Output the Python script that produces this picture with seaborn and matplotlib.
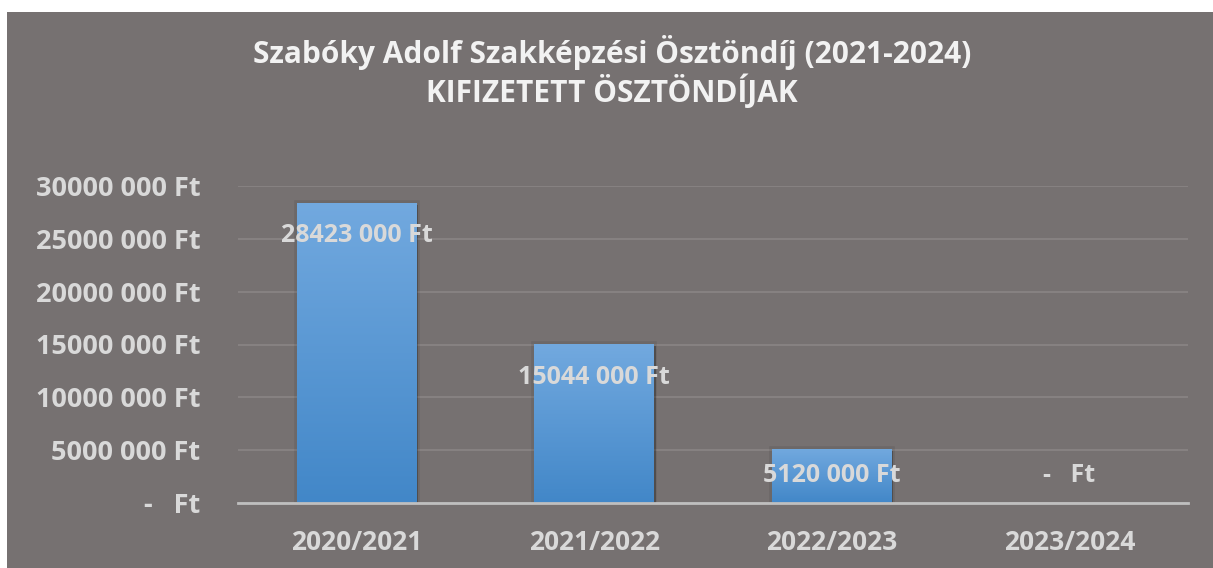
import numpy as np
import pandas as pd
import matplotlib
matplotlib.use("Agg")
import matplotlib.pyplot as plt
import seaborn as sns
from matplotlib.patches import Rectangle
from matplotlib.colors import LinearSegmentedColormap
import matplotlib.patheffects as pe

# ---------------- data ----------------
title_line1 = "Szabóky Adolf Szakképzési Ösztöndíj (2021-2024)"
title_line2 = "KIFIZETETT ÖSZTÖNDÍJAK"
categories = ["2020/2021", "2021/2022", "2022/2023", "2023/2024"]
values = [28423000, 15044000, 5120000, 0]
value_labels = ["28423 000 Ft", "15044 000 Ft", "5120 000 Ft", "-   Ft"]
y_ticks = [0, 5000000, 10000000, 15000000, 20000000, 25000000, 30000000]
y_tick_labels = ["-   Ft", "5000 000 Ft", "10000 000 Ft", "15000 000 Ft",
                 "20000 000 Ft", "25000 000 Ft", "30000 000 Ft"]

# ---------------- style ----------------
BG = "#767171"
TEXT = "#D9D9D9"
TITLE = "#F2F2F2"
GRID = "#878282"
AXISLINE = "#BFBFBF"
BAR_TOP = "#72A9DF"
BAR_BOTTOM = "#4287C8"

sns.set_theme(style="white")
plt.rcParams["font.family"] = ["Open Sans", "DejaVu Sans"]

W, H = 1213, 568
fig = plt.figure(figsize=(W / 100, H / 100), dpi=100, facecolor="white")
fig.patches.append(Rectangle((7 / W, 0), 1, 1 - 12 / H, transform=fig.transFigure,
                             facecolor=BG, edgecolor="none", zorder=-5))

ax = fig.add_axes([238 / W, 65 / H, 950 / W, 317 / H])
ax.set_facecolor("none")

df = pd.DataFrame({"year": categories, "amount": values})
sns.barplot(data=df, x="year", y="amount", ax=ax, width=0.505,
            color=BAR_BOTTOM, saturation=1, zorder=1)

ax.set_ylim(0, 30000000)
ax.set_xlim(-0.5, len(categories) - 0.5)

# gradient fill + soft shadow on bars
cmap = LinearSegmentedColormap.from_list("bar", [BAR_BOTTOM, BAR_TOP])
grad = np.linspace(0, 1, 256).reshape(-1, 1)
for p in list(ax.patches):
    x0, y0, w, h = p.get_x(), p.get_y(), p.get_width(), p.get_height()
    if h <= 0:
        continue
    p.set_edgecolor("none")
    p.set_path_effects([
        pe.Stroke(linewidth=4, foreground="black", alpha=0.08),
        pe.SimplePatchShadow(offset=(1, -1.5), shadow_rgbFace="black", alpha=0.25),
        pe.Normal()])
    im = ax.imshow(grad, extent=[x0, x0 + w, y0, y0 + h], cmap=cmap, aspect="auto",
                   origin="lower", zorder=1.2, interpolation="bilinear")
    im.set_clip_path(p)
ax.set_ylim(0, 30000000)
ax.set_xlim(-0.5, len(categories) - 0.5)

# grid and spines
ax.set_axisbelow(True)
ax.yaxis.grid(True, color=GRID, linewidth=1.4)
ax.xaxis.grid(False)
for s in ["top", "left", "right"]:
    ax.spines[s].set_visible(False)
ax.spines["bottom"].set_color(AXISLINE)
ax.spines["bottom"].set_linewidth(2)

# ticks
ax.set_yticks(y_ticks, y_tick_labels)
ax.tick_params(axis="y", length=0, pad=27, labelsize=19.5, labelcolor=TEXT)
ax.tick_params(axis="x", length=0, pad=19, labelsize=19, labelcolor=TEXT)
for lab in ax.get_yticklabels() + ax.get_xticklabels():
    lab.set_fontweight("bold")
ax.set_xlabel("")
ax.set_ylabel("")

# data labels
px_per_unit = (317) / 30000000
for p, lab in zip(ax.patches, value_labels):
    v = p.get_height()
    cx = p.get_x() + p.get_width() / 2
    dy = max(-33, 28 - v * px_per_unit)
    ax.annotate(lab, xy=(cx, v), xytext=(0, dy), textcoords="offset pixels",
                ha="center", va="center", fontsize=18, fontweight="bold",
                color=TEXT, zorder=5)

# title
fig.text(612 / W, 1 - 52 / H, title_line1, ha="center", va="center",
         fontsize=21.5, fontweight="bold", color=TITLE)
fig.text(612 / W, 1 - 92 / H, title_line2, ha="center", va="center",
         fontsize=21.5, fontweight="bold", color=TITLE)

fig.savefig("out.png", dpi=100, facecolor=fig.get_facecolor())
